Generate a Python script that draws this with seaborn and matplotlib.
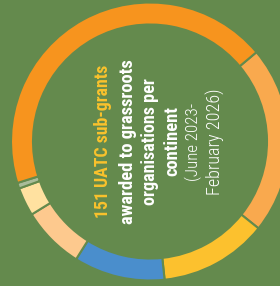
"""
Donut chart: UATC sub-grants per continent
"""

import matplotlib
matplotlib.use("Agg")
import matplotlib.pyplot as plt
import seaborn as sns

# data
continents = ["Asia", "Latin America", "Europe", "Oceania", "North America", "Middle East", "Africa"]
grants = [33, 19, 16, 11, 5, 1, 66]
colors = ["#F9A94E", "#FCC12E", "#4A8ECC", "#FDC98E", "#FFE1A0", "#A9BC99", "#F7941E"]

title_line = "151 UATC sub-grants"
body_lines = ["awarded to grassroots", "organisations per", "continent"]
date_lines = ["(June 2023-", "February 2026)"]

bg = "#648A4D"

sns.set_style("white")
plt.rcParams["font.family"] = ["Roboto Condensed", "Liberation Sans Narrow", "Roboto", "DejaVu Sans"]

fig = plt.figure(figsize=(2.8, 2.86), dpi=100, facecolor=bg)
ax = fig.add_axes([0, 0, 1, 1])
ax.set_facecolor(bg)

# ring (partly cut off on the right)
ax.pie(grants, colors=colors, center=(150, 144.5), radius=139,
       startangle=40, counterclock=False,
       wedgeprops=dict(width=22, edgecolor=bg, linewidth=1.5),
       frame=True)
ax.set_xlim(0, 280)
ax.set_ylim(0, 286)
ax.axis("off")

# rotated text lines: (text, baseline x, length in px, colour, weight)
lines = [
    (title_line, 107.5, 153, "#FAC22C", "heavy"),
    (body_lines[0], 133, 167, "white", "bold"),
    (body_lines[1], 155, 128, "white", "bold"),
    (body_lines[2], 177, 70, "white", "bold"),
    (date_lines[0], 198.5, 78, "white", "light"),
    (date_lines[1], 220.5, 107, "white", "light"),
]

cy = 144.5
renderer = fig.canvas.get_renderer()
for text, x, length, color, weight in lines:
    t = ax.text(x, cy, text, rotation=90, rotation_mode="anchor",
                ha="center", va="baseline", color=color, fontsize=12, fontweight=weight)
    h = t.get_window_extent(renderer).height
    t.set_fontsize(12 * length / h)

fig.savefig("out.png", dpi=100, facecolor=bg)
